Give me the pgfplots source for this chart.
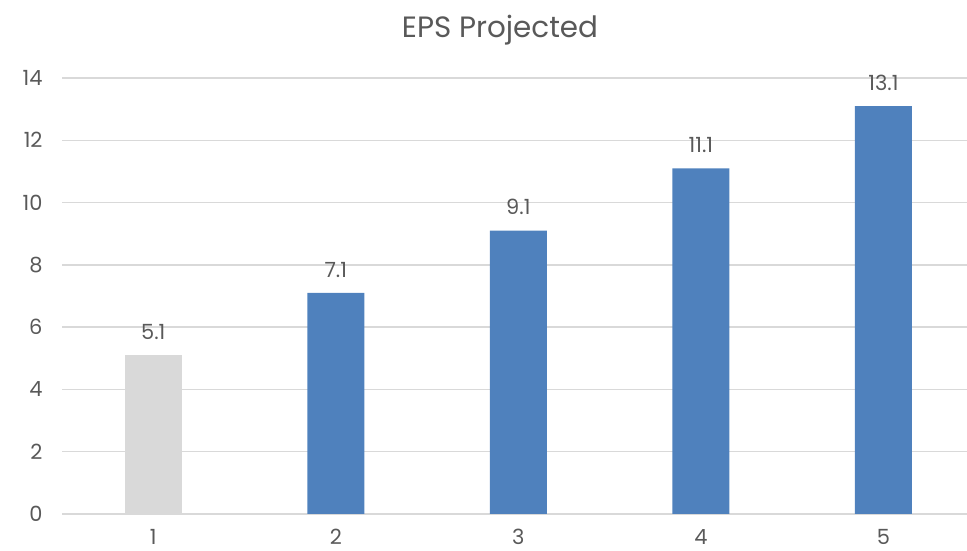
\documentclass[border=0pt]{standalone}
\usepackage{pgfplots}
\pgfplotsset{compat=1.18}
\usepackage{fontspec}
\setmainfont{Poppins}
\definecolor{txt}{HTML}{595959}
\definecolor{gridc}{HTML}{D9D9D9}
\definecolor{barblue}{HTML}{4F81BD}
\definecolor{bargray}{HTML}{D9D9D9}
\begin{document}
\begin{tikzpicture}
\path[use as bounding box] (-62bp,-37bp) rectangle (905bp,514bp);
\begin{axis}[
  scale only axis, width=905bp, height=436bp,
  at={(0,0)}, anchor=south west,
  xmin=0.5, xmax=5.458, ymin=0, ymax=14,
  ytick={0,2,...,14}, xtick={1,2,3,4,5},
  ymajorgrids, grid style={color=gridc, line width=1.3bp},
  axis line style={draw=none},
  major tick length=0pt,
  /pgf/number format/assume math mode=true,
  tick label style={font=\fontsize{21}{24}\selectfont, text=txt},
  yticklabel style={anchor=east, xshift=-16bp},
  xticklabel style={anchor=north, yshift=-12bp},
  title={EPS Projected},
  title style={font=\fontsize{29.5}{32}\selectfont, text=txt, at={(axis description cs:0.484,1)}, anchor=center, yshift=42bp},
  ybar, bar width=0.312, bar shift=0pt,
  nodes near coords,
  every node near coord/.append style={font=\fontsize{21}{24}\selectfont, text=txt, yshift=12bp},
]
\addplot[fill=bargray, draw=none] coordinates {(1,5.1)};
\addplot[fill=barblue, draw=none] coordinates {(2,7.1) (3,9.1) (4,11.1) (5,13.1)};
\end{axis}
\end{tikzpicture}
\end{document}
